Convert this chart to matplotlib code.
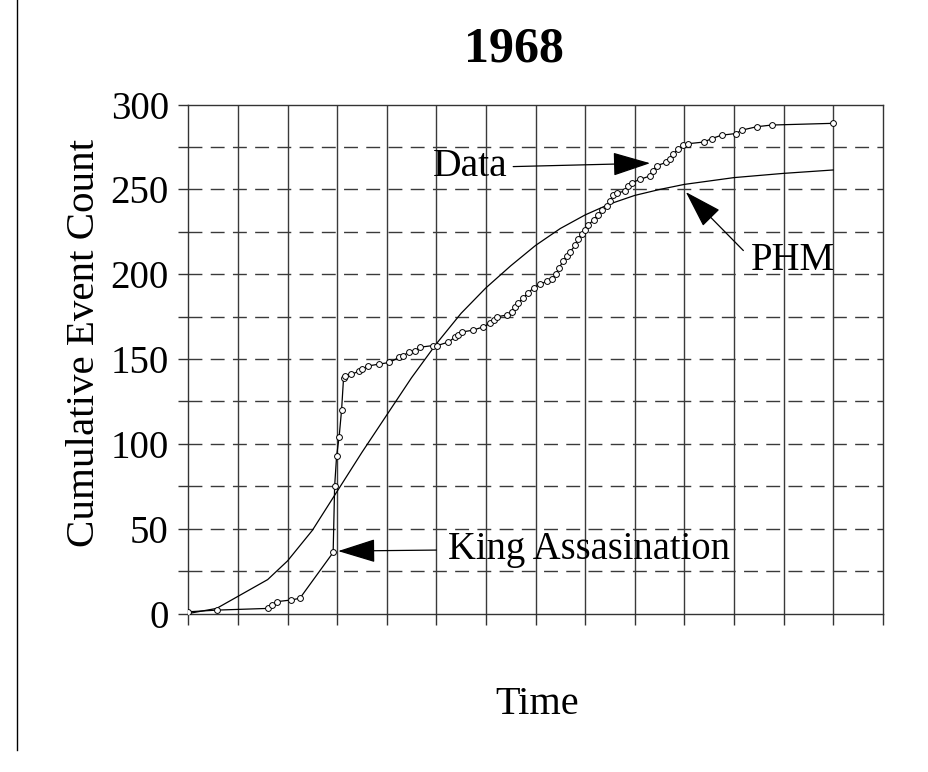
import matplotlib
matplotlib.use("Agg")
import matplotlib.pyplot as plt
from matplotlib.lines import Line2D

plt.rcParams['font.family'] = ['Liberation Serif', 'DejaVu Serif']

# Observed data (time units, cumulative events)
data_t = [0, 0.57, 1.6, 1.68, 1.79, 2.08, 2.25, 2.92, 2.95, 2.99, 3.04, 3.09, 3.13, 3.16,
          3.29, 3.45, 3.51, 3.63, 3.84, 4.05, 4.25, 4.33, 4.44, 4.57, 4.67, 4.94, 5.02,
          5.24, 5.38, 5.44, 5.52, 5.73, 5.95, 6.08, 6.16, 6.23, 6.43, 6.52, 6.59, 6.65,
          6.75, 6.85, 6.96, 7.09, 7.23, 7.33, 7.41, 7.48, 7.56, 7.63, 7.69, 7.8, 7.86,
          7.93, 8.0, 8.06, 8.17, 8.25, 8.35, 8.45, 8.5, 8.57, 8.65, 8.8, 8.87, 8.94,
          9.11, 9.31, 9.36, 9.44, 9.64, 9.71, 9.78, 9.88, 9.98, 10.08, 10.4, 10.55,
          10.75, 11.04, 11.16, 11.46, 11.76, 12.99]
data_n = [1, 2, 3, 5, 7, 8, 9, 36, 75, 93, 104, 120, 139, 140,
          141, 143, 144, 146, 147, 148, 151, 152, 154, 155, 157, 158, 158,
          160, 163, 164, 166, 167, 169, 171, 173, 175, 176, 178, 181, 183,
          186, 189, 192, 194, 196, 197, 200, 204, 208, 211, 213, 217, 221,
          224, 226, 229, 232, 235, 238, 240, 243, 247, 248, 249, 252, 254,
          256, 258, 261, 264, 266, 268, 271, 274, 276, 277, 278, 280,
          282, 283, 285, 287, 288, 289]

# PHM model curve
phm_t = [0, 0.57, 1.6, 2.0, 2.5, 3.0, 3.5, 4.0, 4.5, 5.0, 5.5, 6.0, 6.5, 7.0, 7.5,
         8.0, 8.5, 9.0, 9.5, 10, 11, 12, 13]
phm_n = [0, 3, 20, 31, 49, 72, 95, 117, 139, 159, 177, 192, 205, 217, 227,
         235, 241.5, 246.5, 250, 253, 257, 259.5, 261.5]

title = "1968"
ylabel = "Cumulative Event Count"
xlabel = "Time"
yticks = [0, 50, 100, 150, 200, 250, 300]

fig = plt.figure(figsize=(9.29, 7.72), dpi=100)
ax = fig.add_axes([0.2027, 0.2053, 0.7475, 0.6591])

ax.set_xlim(0, 14)
ax.set_ylim(0, 300)
ax.set_xticks(range(0, 15))
ax.set_xticklabels([])
ax.set_yticks(range(0, 301, 25), minor=False)
ax.set_yticklabels([str(v) if v in yticks else "" for v in range(0, 301, 25)])
ax.tick_params(axis='y', direction='out', length=7, width=1, labelsize=28, pad=7, color='#333333')
ax.tick_params(axis='x', direction='out', length=8, width=1, color='#333333')

for v in range(1, 14):
    ax.axvline(v, color='#3a3a3a', lw=1.0, zorder=1)
for v in range(25, 300, 25):
    ax.axhline(v, color='#3a3a3a', lw=1.0, ls=(0, (10, 6)), zorder=1)
for s in ax.spines.values():
    s.set_color('#333333')
    s.set_linewidth(1.0)

ax.plot(phm_t, phm_n, color='black', lw=0.9, zorder=3)
ax.plot(data_t, data_n, color='black', lw=0.9, marker='o', ms=4.2, mfc='white',
        mec='black', mew=0.7, zorder=4)

arrowkw = dict(arrowstyle='-|>,head_length=2.4,head_width=0.75', mutation_scale=10,
               color='black', lw=0.9, shrinkA=0, shrinkB=0)
ax.annotate("", xy=(9.31, 265.5), xytext=(6.55, 263.5), arrowprops=arrowkw)
ax.text(6.44, 263.5, "Data", fontsize=28.5, ha='right', va='center')
ax.annotate("", xy=(10.03, 248.5), xytext=(11.19, 214), arrowprops=arrowkw)
ax.text(11.35, 208, "PHM", fontsize=28, ha='left', va='center')
ax.annotate("", xy=(3.02, 36.8), xytext=(5.0, 37.4), arrowprops=arrowkw)
ax.text(5.23, 37.5, "King Assasination", fontsize=27.8, ha='left', va='center')

fig.text(514 / 929, 1 - 49 / 772, title, fontsize=36, fontweight='bold', ha='center', va='center')
fig.text(537 / 929, 1 - 705 / 772, xlabel, fontsize=29, ha='center', va='center')
fig.text(85 / 929, 1 - 343 / 772, ylabel, fontsize=29.5, rotation=90, ha='center', va='center')

fig.add_artist(Line2D([17 / 929, 17 / 929], [1 - 750 / 772, 1.0], transform=fig.transFigure,
                      color='black', lw=1.0))

fig.savefig("out.png", dpi=100)
